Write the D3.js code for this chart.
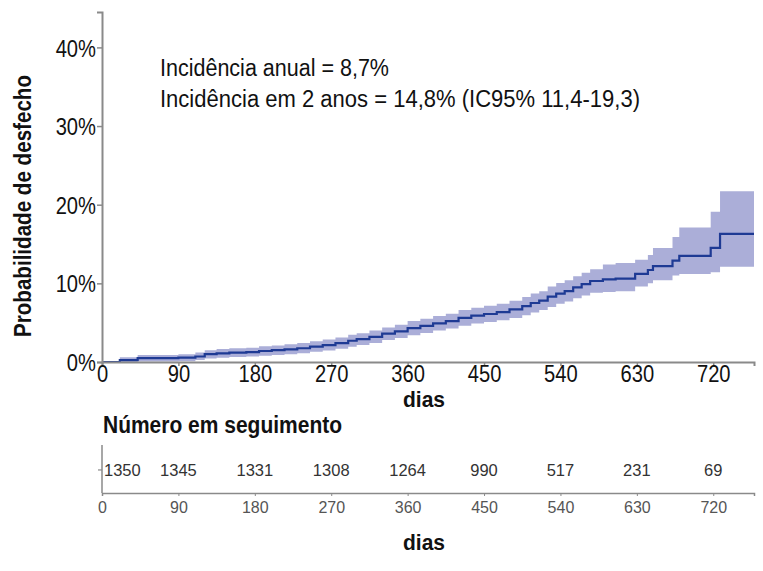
<!DOCTYPE html>
<html><head><meta charset="utf-8">
<script src="https://cdn.jsdelivr.net/npm/d3@7"></script>
<style>
body{margin:0;background:#fff;}
svg{display:block;}
text{font-family:"Liberation Sans",Arial,Helvetica,sans-serif;}
</style></head>
<body>
<svg id="c" width="763" height="571"></svg>
<script>
// ---- data ----
const days  = [0,21,42,90,110,121,135,150,170,185,200,215,230,245,260,275,290,300,315,330,345,360,375,390,405,420,435,450,465,480,495,505,515,525,535,545,555,565,575,590,605,628,643,649,672,680,717,728,768];
const incid = [0,0.25,0.5,0.55,0.7,1.0,1.1,1.2,1.25,1.4,1.5,1.6,1.75,1.95,2.15,2.4,2.7,2.9,3.2,3.6,3.9,4.3,4.6,4.9,5.2,5.6,5.9,6.1,6.35,6.7,7.1,7.5,7.8,8.3,8.7,9.0,9.5,9.9,10.3,10.5,10.6,11.2,11.7,12.2,12.9,13.5,14.5,16.3,16.3];
const lower = [0,0,0.05,0.1,0.25,0.45,0.55,0.65,0.7,0.8,0.9,1.0,1.1,1.3,1.45,1.7,1.95,2.15,2.4,2.8,3.05,3.4,3.7,4.0,4.25,4.6,4.9,5.1,5.3,5.6,5.95,6.3,6.6,7.0,7.4,7.7,8.1,8.45,8.8,8.9,9.0,9.6,10.0,10.4,11.0,11.2,11.4,12.1,12.1];
const upper = [0,0.6,0.9,1.0,1.2,1.5,1.65,1.75,1.8,2.0,2.1,2.25,2.4,2.65,2.85,3.1,3.45,3.65,4.0,4.4,4.75,5.2,5.5,5.85,6.15,6.6,6.9,7.15,7.4,7.8,8.25,8.7,9.0,9.6,10.05,10.4,10.9,11.35,11.8,12.4,12.6,13.0,13.6,14.5,15.9,17.1,19.1,21.7,21.7];
const yTicks = [0,10,20,30,40];
const xTicks = [0,90,180,270,360,450,540,630,720];
const atRisk = [1350,1345,1331,1308,1264,990,517,231,69];
const annot = ["Incidência anual = 8,7%","Incidência em 2 anos = 14,8% (IC95% 11,4-19,3)"];

const svg = d3.select("#c");
const x = d3.scaleLinear().domain([0,768]).range([102,754]);
const y = d3.scaleLinear().domain([0,44.5]).range([362,12]);
const pts = days.map((d,i)=>({d, v:incid[i], lo:lower[i], hi:upper[i]}));

// band
svg.append("path").datum(pts.filter(p=>p.d>=21))
  .attr("d", d3.area().curve(d3.curveStepAfter).x(p=>x(p.d)).y0(p=>y(p.lo)).y1(p=>y(p.hi)))
  .attr("fill","#abaed8");
// line
svg.append("path").datum(pts)
  .attr("d", d3.line().curve(d3.curveStepAfter).x(p=>x(p.d)).y(p=>y(p.v)))
  .attr("fill","none").attr("stroke","#1e3a94").attr("stroke-width",2.2);

// axes
const axCol = "#8a8a8a";
const ya = svg.append("g").attr("transform","translate(102,0)")
  .call(d3.axisLeft(y).tickValues(yTicks).tickSize(5).tickFormat(d=>d+"%"));
const xa = svg.append("g").attr("transform","translate(0,362)")
  .call(d3.axisBottom(x).tickValues(xTicks).tickSize(4));
[ya,xa].forEach(g=>{
  g.select(".domain").attr("stroke",axCol).attr("stroke-width",2);
  g.selectAll(".tick line").attr("stroke",axCol).attr("stroke-width",1.5);
  g.selectAll("text").attr("font-family","Liberation Sans, Arial, sans-serif").attr("font-size",24).attr("fill","#111");
});
ya.selectAll("text").attr("x",0).attr("dy","0.36em").attr("transform","translate(-6,0) scale(0.84,1)");
xa.selectAll("text").attr("y",0).attr("dy","0.72em").attr("transform","translate(0,3) scale(0.84,1)");

// y label
svg.append("text").attr("transform","translate(31,206) rotate(-90)")
  .attr("text-anchor","middle").attr("font-weight","bold").attr("font-size",23).attr("fill","#111")
  .attr("textLength",262).attr("lengthAdjust","spacingAndGlyphs")
  .text("Probabilidade de desfecho");
// x label
svg.append("text").attr("x",424).attr("y",407).attr("text-anchor","middle")
  .attr("font-weight","bold").attr("font-size",22).attr("fill","#111")
  .attr("textLength",42).attr("lengthAdjust","spacingAndGlyphs").text("dias");

// annotations
const annotW = [229,480];
annot.forEach((t,i)=>svg.append("text").attr("x",160).attr("y",76+i*31)
  .attr("font-size",23).attr("fill","#111")
  .attr("textLength",annotW[i]).attr("lengthAdjust","spacingAndGlyphs").text(t));

// risk table
svg.append("text").attr("x",103).attr("y",433).attr("font-weight","bold")
  .attr("font-size",23).attr("fill","#111")
  .attr("textLength",239).attr("lengthAdjust","spacingAndGlyphs").text("Número em seguimento");
const tY = d3.scaleLinear().domain([0,1]).range([493,445]);
const ta = svg.append("g").attr("transform","translate(0,493)")
  .call(d3.axisBottom(x).tickValues(xTicks).tickSize(3));
ta.select(".domain").attr("stroke",axCol).attr("stroke-width",1.5);
ta.selectAll(".tick line").attr("stroke",axCol);
ta.selectAll("text").attr("font-family","Liberation Sans, Arial, sans-serif").attr("font-size",16).attr("fill","#555").attr("y",8).attr("dy","0.72em");
svg.append("line").attr("x1",102).attr("x2",102).attr("y1",tY(1)).attr("y2",tY(0)).attr("stroke",axCol).attr("stroke-width",1.5);
svg.append("line").attr("x1",98).attr("x2",102).attr("y1",tY(0.48)).attr("y2",tY(0.48)).attr("stroke",axCol).attr("stroke-width",1.2);
svg.selectAll(".risk").data(atRisk).join("text").attr("class","risk")
  .attr("x",(d,i)=> i===0 ? x(xTicks[i])+2 : x(xTicks[i]))
  .attr("text-anchor",(d,i)=> i===0 ? "start":"middle")
  .attr("y",tY(0.48)).attr("dy","0.35em").attr("font-size",16.5).attr("fill","#333").text(d=>d);
svg.append("text").attr("x",424).attr("y",550).attr("text-anchor","middle")
  .attr("font-weight","bold").attr("font-size",22).attr("fill","#111")
  .attr("textLength",42).attr("lengthAdjust","spacingAndGlyphs").text("dias");
</script>
</body></html>
